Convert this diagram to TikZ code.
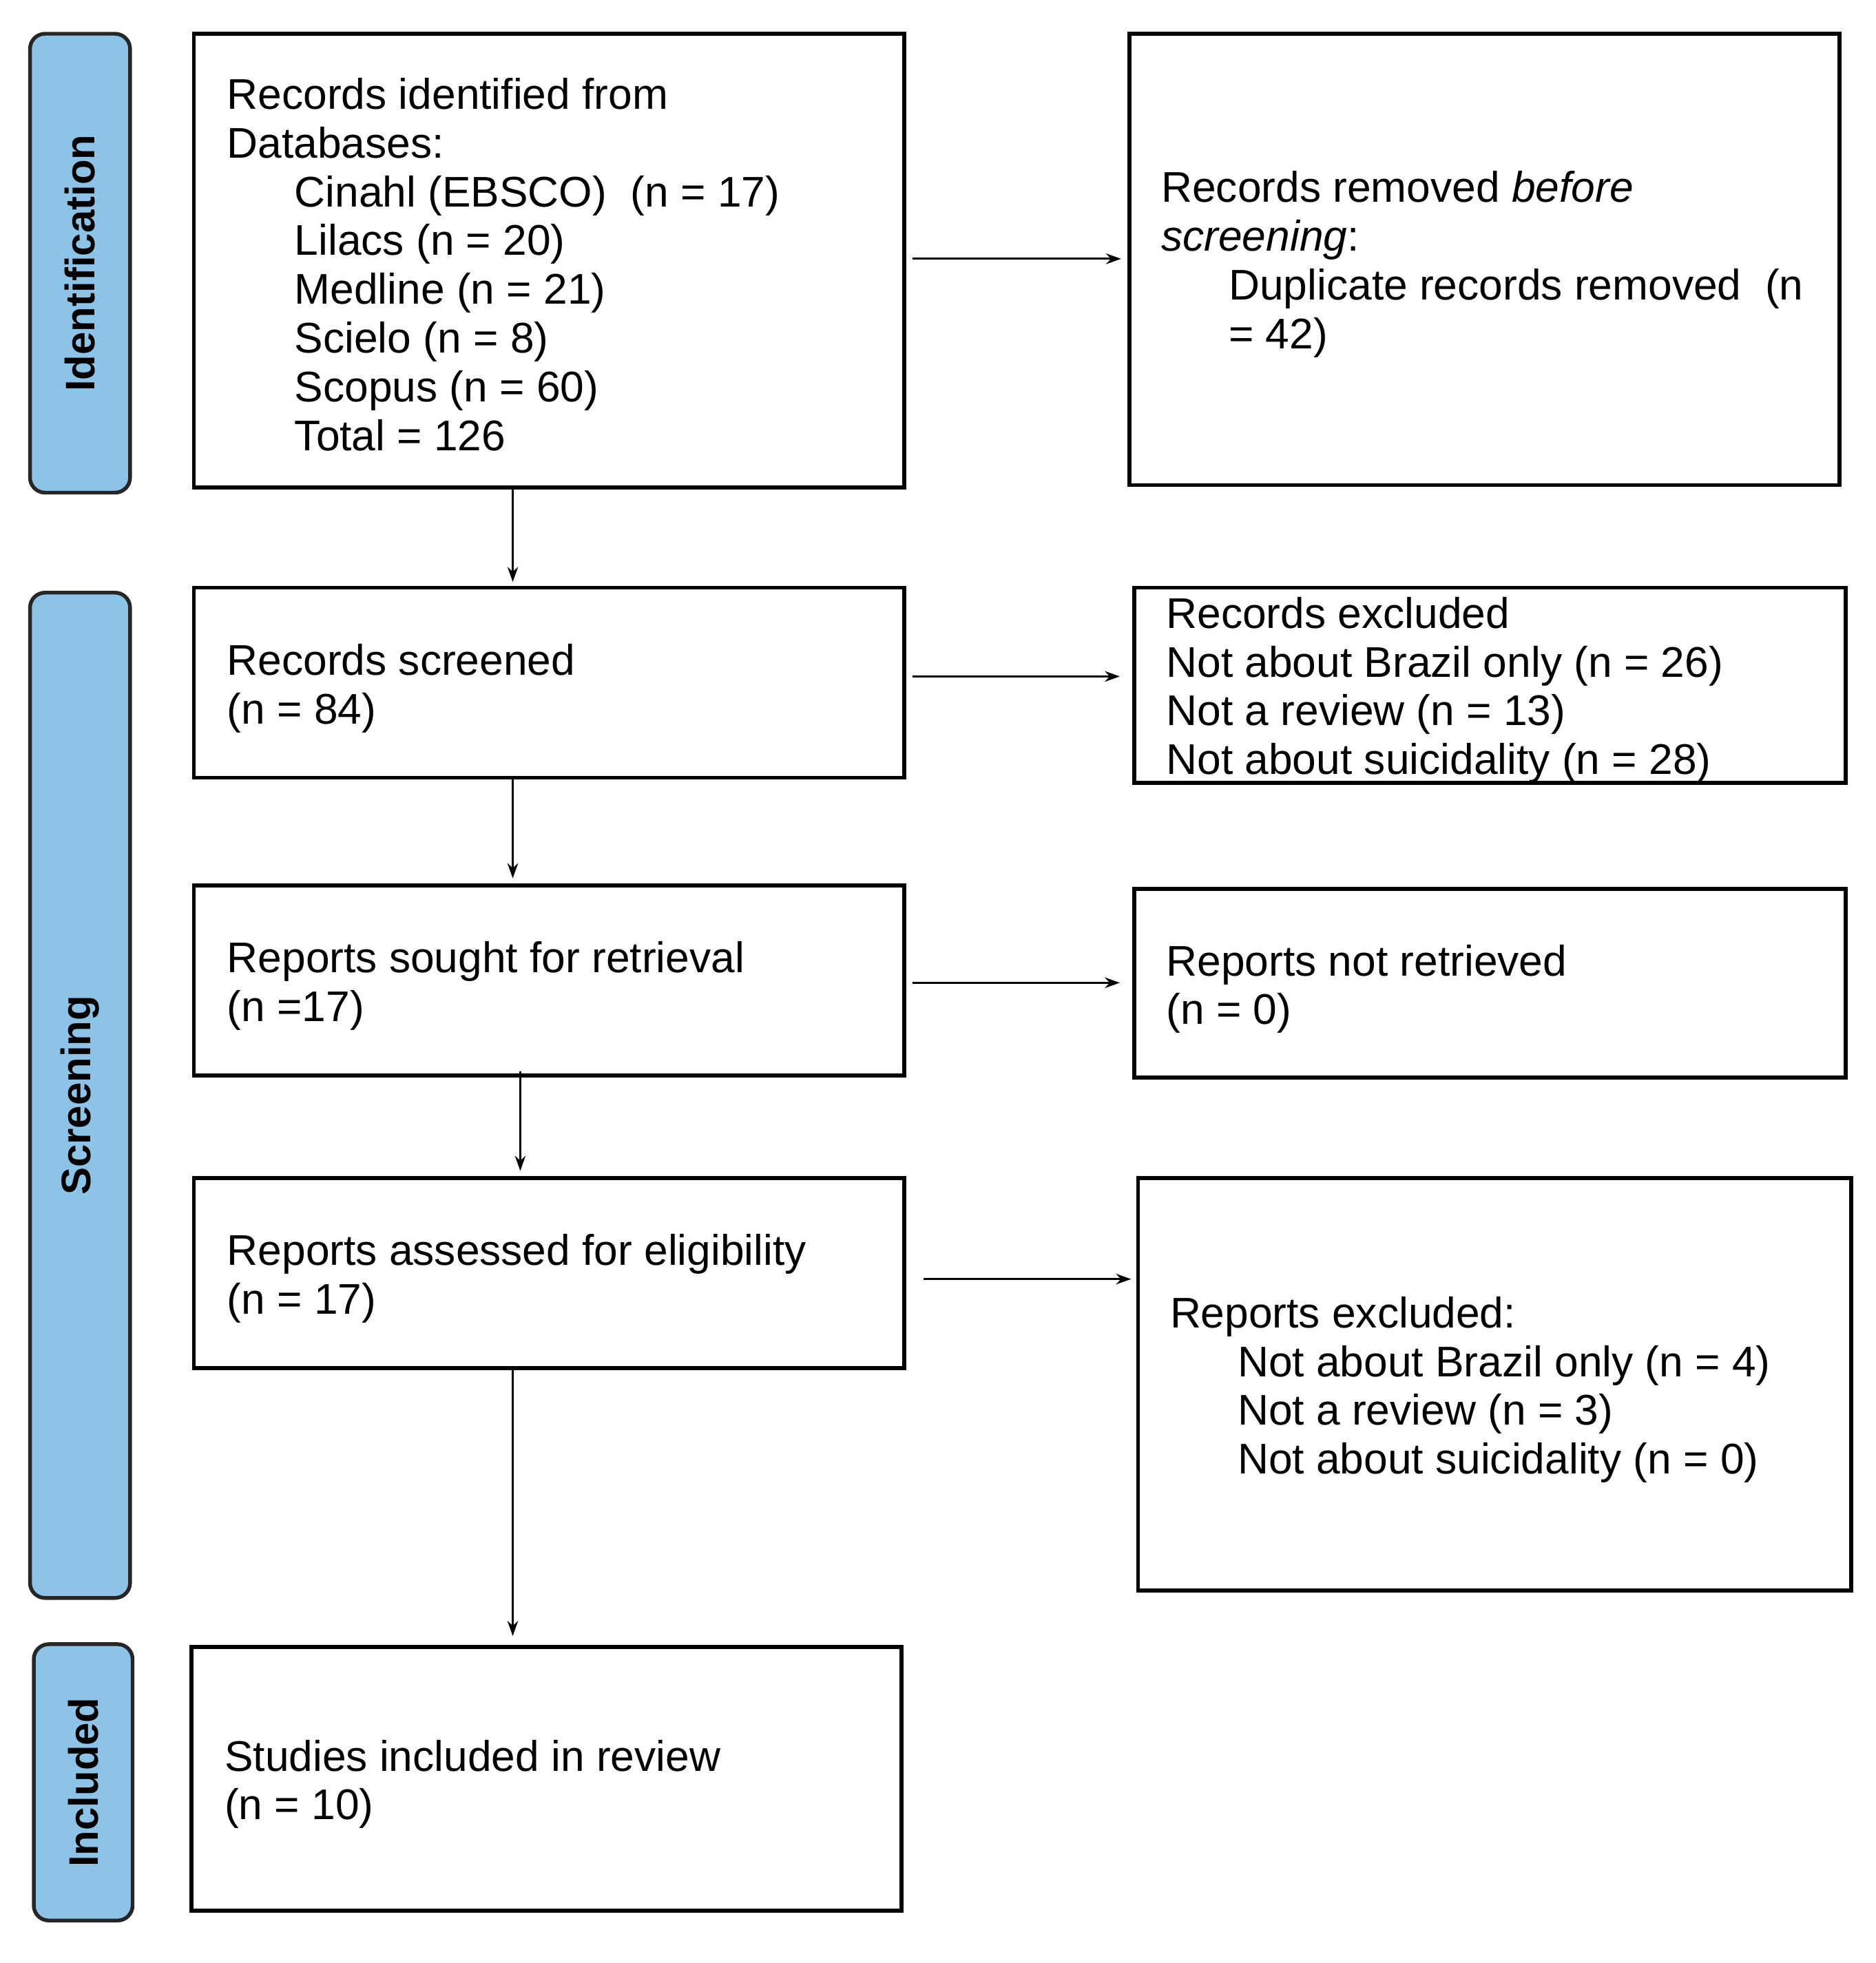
\documentclass[tikz,border=0pt]{standalone}
\usepackage{fontspec}
\setmainfont{Liberation Sans}
\usetikzlibrary{arrows.meta}
\definecolor{pillblue}{HTML}{8EC3E8}
\begin{document}
\begin{tikzpicture}[x=1pt,y=-1pt,
  box/.style={draw, line width=3.2pt, inner sep=0pt},
  txt/.style={anchor=west, align=left, inner sep=0pt, font=\fontsize{34.3}{39}\selectfont},
  pill/.style={draw=black!85, fill=pillblue, line width=3pt, rounded corners=12pt, rotate=90,
               font=\fontsize{33}{39}\selectfont\bfseries, inner sep=0pt},
  arr/.style={line width=1.7pt, -{Stealth[length=12pt,width=8.5pt]}}]
\useasboundingbox (0,0) rectangle (1500,1570);
\newcommand{\ind}{\hspace*{54pt}}

% phase pills
\node[pill, minimum width=367pt, minimum height=80pt] (pid) at (64,210.5) {Identification};
\node[pill, minimum width=804pt, minimum height=80pt] (psc) at (64,876) {Screening};
\node[pill, minimum width=221pt, minimum height=79pt] (pin) at (66.5,1425.5) {Included};

% boxes
\node[box, minimum width=568pt, minimum height=363pt] (b1) at (439,208.5) {};
\node[box, minimum width=568pt, minimum height=361pt] (b2) at (1187,207.5) {};
\node[box, minimum width=568pt, minimum height=152pt] (b3) at (439,546) {};
\node[box, minimum width=569pt, minimum height=156pt] (b4) at (1191.5,548) {};
\node[box, minimum width=568pt, minimum height=152pt] (b5) at (439,784) {};
\node[box, minimum width=569pt, minimum height=151pt] (b6) at (1191.5,786.5) {};
\node[box, minimum width=568pt, minimum height=152pt] (b7) at (439,1018) {};
\node[box, minimum width=570pt, minimum height=330pt] (b8) at (1195,1107) {};
\node[box, minimum width=568pt, minimum height=211pt] (b9) at (437,1422.5) {};

% texts
\node[txt] (t1) at ([xshift=28pt,yshift=-3pt]b1.west) {Records identified from\\Databases:\\
  \ind Cinahl (EBSCO)\ \ (n = 17)\\\ind Lilacs (n = 20)\\\ind Medline (n = 21)\\
  \ind Scielo (n = 8)\\\ind Scopus (n = 60)\\\ind Total = 126};
\node[txt] (t2) at ([xshift=27pt,yshift=-4pt]b2.west) {Records removed \textit{before}\\\textit{screening}:\\
  \ind Duplicate records removed\ \ (n\\\ind = 42)};
\node[txt] (t3) at ([xshift=28pt,yshift=-4.5pt]b3.west) {Records screened\\(n = 84)};
\node[txt] (t4) at ([xshift=27pt,yshift=-4pt]b4.west) {Records excluded\\Not about Brazil only (n = 26)\\Not a review (n = 13)\\Not about suicidality (n = 28)};
\node[txt] (t5) at ([xshift=28pt,yshift=-4.5pt]b5.west) {Reports sought for retrieval\\(n =17)};
\node[txt] (t6) at ([xshift=27pt,yshift=-4.5pt]b6.west) {Reports not retrieved\\(n = 0)};
\node[txt] (t7) at ([xshift=28pt,yshift=-4.5pt]b7.west) {Reports assessed for eligibility\\(n = 17)};
\node[txt] (t8) at ([xshift=27pt,yshift=-4.5pt]b8.west) {Reports excluded:\\\ind Not about Brazil only (n = 4)\\
  \ind Not a review (n = 3)\\\ind Not about suicidality (n = 0)};
\node[txt] (t9) at ([xshift=28pt,yshift=-4.5pt]b9.west) {Studies included in review\\(n = 10)};

% connector columns
\coordinate (cx) at (410,0);
\coordinate (cx2) at (416,0);

% horizontal arrows
\draw[arr, shorten <=5pt, shorten >=5pt] ([yshift=1.5pt]b1.east) -- ([yshift=1.5pt]b1.east -| b2.west);
\draw[arr, shorten <=5pt, shorten >=10pt] ([yshift=5pt]b3.east) -- ([yshift=5pt]b3.east -| b4.west);
\draw[arr, shorten <=5pt, shorten >=10pt] ([yshift=-2pt]b5.east) -- ([yshift=-2pt]b5.east -| b6.west);
\draw[arr, shorten <=14pt, shorten >=4pt] ([yshift=-5pt]b7.east) -- ([yshift=-5pt]b7.east -| b8.west);

% vertical arrows
\draw[arr, shorten >=3pt] (b1.south -| cx) -- (b3.north -| cx);
\draw[arr, shorten >=4pt] (b3.south -| cx) -- (b5.north -| cx);
\draw[arr, shorten <=-5pt, shorten >=4pt] (b5.south -| cx2) -- (b7.north -| cx2);
\draw[arr, shorten >=7pt] (b7.south -| cx) -- (b9.north -| cx);
\end{tikzpicture}
\end{document}
